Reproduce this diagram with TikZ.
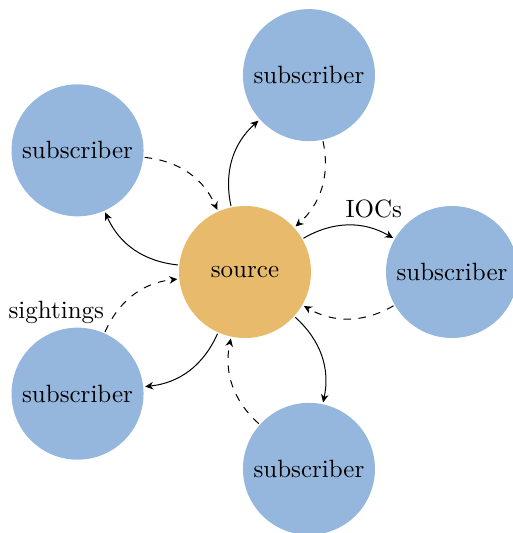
\documentclass[tikz,border=0pt]{standalone}
\usetikzlibrary{arrows.meta}
\definecolor{subblue}{RGB}{149,183,221}
\definecolor{srcorange}{RGB}{232,187,108}
\begin{document}
\begin{tikzpicture}[x=0.4pt,y=0.4pt,
  hub/.style={circle,fill=#1,draw=none,minimum size=52.8pt,inner sep=0pt},
  tip/.style={-{Stealth[length=3.2pt,width=3pt,inset=1pt]}},
  push/.style={tip,shorten <=0.4pt,shorten >=0.6pt},
  pull/.style={tip,dashed,shorten <=0.4pt,shorten >=0.6pt}]
  \useasboundingbox (-245,-261) rectangle (268,272);
  \clip (-245,-261) rectangle (268,272);
  % central publisher
  \node[hub=srcorange] (src) at (0,0) {source};
  % subscribers around it
  \foreach \i/\a in {1/0,2/72,3/144,4/216,5/288}
    \node[hub=subblue] (sub\i) at (\a:207) {subscriber};
  % outgoing feeds and returning reports
  \draw[push] (src) to[bend left] node[pos=0.75,above,xshift=1pt,yshift=0.8pt] {IOCs} (sub1);
  \foreach \i in {2,3,4,5}
    \draw[push] (src) to[bend left] (sub\i);
  \draw[pull] (sub4) to[bend left] node[pos=0.06,above left,xshift=2.2pt,yshift=-2pt] {sightings} (src);
  \foreach \i in {1,2,3,5}
    \draw[pull] (sub\i) to[bend left] (src);
\end{tikzpicture}
\end{document}
